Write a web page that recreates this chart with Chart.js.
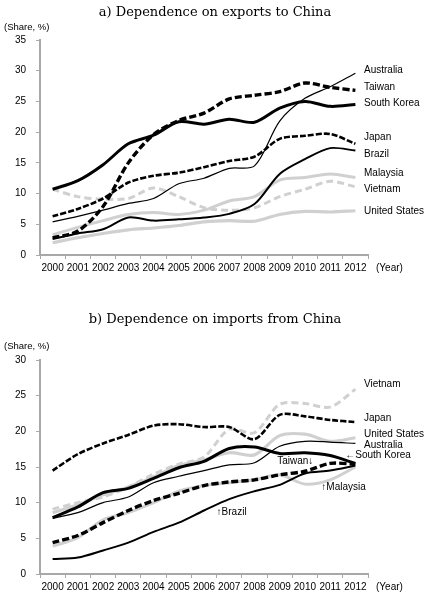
<!DOCTYPE html>
<html>
<head>
<meta charset="utf-8">
<script src="https://cdn.jsdelivr.net/npm/chart.js@4/dist/chart.umd.min.js"></script>
<style>
  html, body { margin: 0; padding: 0; background: #fff; }
  #wrap { position: relative; width: 428px; height: 596px; }
  #wrap canvas { position: absolute; left: 0; }
</style>
</head>
<body>
<div id="wrap">
  <canvas id="exp" width="428" height="280" style="top:0"></canvas>
  <canvas id="imp" width="428" height="300" style="top:296px"></canvas>
</div>
<script>
// years
const years = ["2000","2001","2002","2003","2004","2005","2006","2007","2008","2009","2010","2011","2012"];

// a) exports to China (share, %)
const expAustralia = [5.4, 6.3, 7.3, 8.4, 9.2, 11.6, 12.5, 14.1, 14.5, 21.8, 25.5, 27.4, 29.6];
const expTaiwan = [2.8, 3.9, 7.9, 15.0, 19.6, 21.9, 23.1, 25.4, 26.0, 26.6, 28.0, 27.3, 26.8];
const expKorea = [10.7, 12.1, 14.7, 18.1, 19.5, 21.7, 21.3, 22.1, 21.6, 23.9, 25.0, 24.2, 24.5];
const expJapan = [6.3, 7.5, 9.2, 11.8, 12.9, 13.4, 14.3, 15.3, 16.0, 18.9, 19.4, 19.7, 18.1];
const expBrazil = [2.6, 3.5, 4.2, 6.1, 5.6, 5.8, 6.1, 6.7, 8.3, 13.2, 15.6, 17.4, 17.0];
const expMalaysia = [3.3, 4.5, 5.6, 6.6, 6.9, 6.6, 7.3, 8.8, 9.5, 12.2, 12.6, 13.2, 12.6];
const expVietnam = [10.7, 9.5, 9.1, 9.2, 10.9, 9.5, 7.7, 7.3, 7.7, 9.5, 10.7, 12.0, 11.1];
const expUS = [2.0, 2.8, 3.5, 4.1, 4.4, 4.8, 5.4, 5.6, 5.5, 6.6, 7.1, 7.0, 7.2];

// b) imports from China (share, %)
const impJapan = [14.5, 16.8, 18.3, 19.5, 20.8, 21.0, 20.6, 20.6, 18.9, 22.3, 22.1, 21.6, 21.3];
const impVietnam = [9.1, 10.0, 10.8, 12.2, 14.0, 15.4, 16.4, 20.3, 19.8, 23.8, 23.9, 23.4, 25.9];
const impUS = [8.6, 9.7, 11.1, 12.2, 13.6, 15.2, 16.0, 17.0, 16.7, 19.4, 19.6, 18.6, 19.1];
const impKorea = [7.9, 9.4, 11.4, 12.0, 13.4, 14.9, 15.8, 17.6, 17.8, 16.9, 17.0, 16.6, 15.5];
const impAustralia = [7.8, 8.6, 10.0, 10.8, 12.8, 13.7, 14.5, 15.3, 15.6, 17.9, 18.6, 18.5, 18.3];
const impTaiwan = [4.4, 5.4, 7.2, 8.9, 10.3, 11.3, 12.4, 12.9, 13.2, 13.9, 14.4, 15.5, 15.4];
const impMalaysia = [3.9, 5.1, 7.6, 8.6, 10.0, 11.6, 12.4, 12.8, 13.2, 13.9, 12.6, 13.2, 15.0];
const impBrazil = [2.1, 2.3, 3.3, 4.4, 5.9, 7.2, 8.9, 10.5, 11.6, 12.5, 14.1, 14.5, 15.2];

// line look per country
const GRAY = "#d0d0d0";
const styles = {
  Australia: { color: "#000", width: 1.2, dash: [] },
  Taiwan: { color: "#000", width: 3.4, dash: [7, 3] },
  "South Korea": { color: "#000", width: 3, dash: [] },
  Japan: { color: "#000", width: 2.6, dash: [6, 2] },
  Brazil: { color: "#000", width: 2, dash: [] },
  Malaysia: { color: GRAY, width: 3, dash: [] },
  Vietnam: { color: GRAY, width: 3, dash: [7, 4] },
  "United States": { color: GRAY, width: 3.2, dash: [] },
};

// label anchors: [text, x index (or null = right edge), value]
const expLabels = [
  ["Australia", null, 30.1], ["Taiwan", null, 27.3], ["South Korea", null, 24.7],
  ["Japan", null, 19.2], ["Brazil", null, 16.4], ["Malaysia", null, 13.3],
  ["Vietnam", null, 10.7], ["United States", null, 7.2],
];
const impLabels = [
  ["Vietnam", null, 26.6], ["Japan", null, 21.9], ["United States", null, 19.6],
  ["Australia", null, 18.1], ["\u2190South Korea", 11.6, 16.7], ["Taiwan\u2193", 8.9, 15.8],
  ["\u2191Malaysia", 10.65, 12.1], ["\u2191Brazil", 6.5, 8.7],
];

function makeSet(name, data) {
  const s = styles[name];
  return {
    label: name, data: data,
    borderColor: s.color, borderWidth: s.width, borderDash: s.dash,
    pointRadius: 0, tension: 0.3, fill: false,
  };
}

const textPlugin = {
  id: "texts",
  afterDraw(chart, args, opts) {
    const ctx = chart.ctx, area = chart.chartArea;
    const x = chart.scales.x, y = chart.scales.y;
    ctx.save();
    ctx.fillStyle = "#000";
    ctx.textBaseline = "middle";
    // title
    ctx.font = "13px 'DejaVu Serif', serif";
    ctx.textAlign = "center";
    ctx.fillText(opts.title, 215, opts.titleY);
    // unit
    ctx.font = "9.5px 'Liberation Sans', sans-serif";
    ctx.textAlign = "left";
    ctx.fillText("(Share, %)", 4, opts.unitY);
    ctx.font = "10px 'Liberation Sans', sans-serif";
    ctx.fillText("(Year)", area.right + 8, area.bottom + 13);
    // series labels
    opts.labels.forEach(function (l) {
      const px = l[1] === null ? area.right - 4 : x.getPixelForValue(l[1]);
      ctx.fillText(l[0], px, y.getPixelForValue(l[2]));
    });
    ctx.restore();
  },
};

function build(id, sets, yMax, padTop, xHeight, title, titleY, unitY, labels) {
  new Chart(document.getElementById(id), {
    type: "line",
    data: { labels: years, datasets: sets },
    options: {
      responsive: false,
      animation: false,
      layout: { padding: { left: 0, right: 60, top: padTop, bottom: 0 } },
      plugins: {
        legend: { display: false },
        tooltip: { enabled: false },
        texts: { title: title, titleY: titleY, unitY: unitY, labels: labels },
      },
      scales: {
        x: {
          offset: true,
          grid: { offset: true, drawOnChartArea: false, drawTicks: true, tickLength: 4, color: "#a8a8a8" },
          border: { color: "#a8a8a8", width: 2 },
          ticks: { color: "#000", font: { family: "Liberation Sans", size: 10 }, padding: 3, maxRotation: 0, autoSkip: false },
          afterFit: function (s) { s.height = xHeight; },
        },
        y: {
          min: 0, max: yMax,
          ticks: { stepSize: 5, color: "#000", font: { family: "Liberation Sans", size: 10 }, padding: 10 },
          grid: { drawOnChartArea: false, drawTicks: true, tickLength: 4, color: "#a8a8a8" },
          border: { color: "#a8a8a8", width: 2 },
          afterFit: function (s) { s.width = 40; },
        },
      },
    },
    plugins: [textPlugin],
  });
}

build("exp", [
  makeSet("South Korea", expKorea),
  makeSet("Taiwan", expTaiwan),
  makeSet("Japan", expJapan),
  makeSet("Australia", expAustralia),
  makeSet("Brazil", expBrazil),
  makeSet("Vietnam", expVietnam),
  makeSet("Malaysia", expMalaysia),
  makeSet("United States", expUS),
], 35, 40, 25, "a) Dependence on exports to China", 13, 27, expLabels);

build("imp", [
  makeSet("Japan", impJapan),
  makeSet("South Korea", impKorea),
  makeSet("Taiwan", impTaiwan),
  makeSet("Australia", impAustralia),
  makeSet("Brazil", impBrazil),
  makeSet("Vietnam", impVietnam),
  makeSet("United States", impUS),
  makeSet("Malaysia", impMalaysia),
], 30, 64, 22, "b) Dependence on imports from China", 24, 50, impLabels);
</script>
</body>
</html>
